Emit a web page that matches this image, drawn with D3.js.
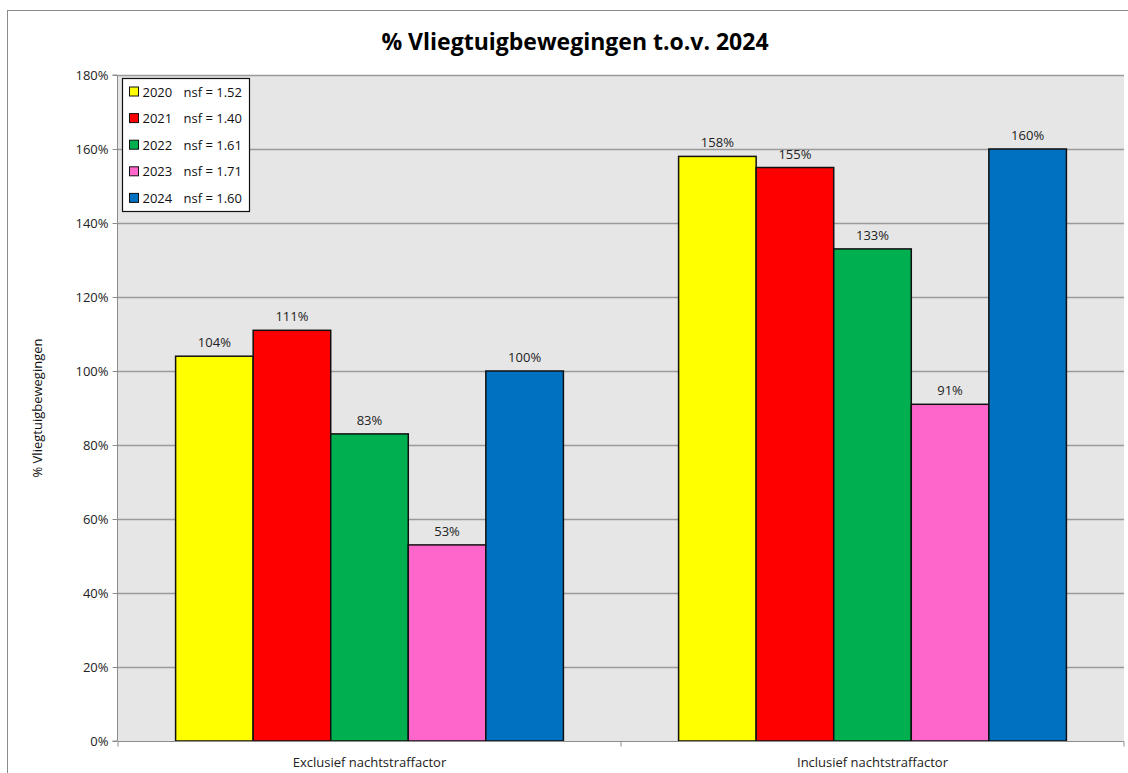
<!DOCTYPE html>
<html>
<head>
<meta charset="utf-8">
<script src="https://cdn.jsdelivr.net/npm/d3@7"></script>
<style>
  body { margin: 0; background: #fff; }
  svg { display: block; font-family: "Open Sans", sans-serif; }
</style>
</head>
<body>
<div class="chart"></div>
<script>
// data
var categories = ["Exclusief nachtstraffactor", "Inclusief nachtstraffactor"];
var years = ["2020", "2021", "2022", "2023", "2024"];
var nsf = ["1.52", "1.40", "1.61", "1.71", "1.60"];
var exclusief = [104, 111, 83, 53, 100];
var inclusief = [158, 155, 133, 91, 160];
var yTicks = [0, 20, 40, 60, 80, 100, 120, 140, 160, 180];
var colors = ["#ffff00", "#ff0000", "#00b050", "#ff66cc", "#0070c0"];

var width = 1128, height = 773;
var margin = { top: 75, right: 4, bottom: 32, left: 118 };
var fs = "13px";

var svg = d3.select(".chart").append("svg")
    .attr("width", width)
    .attr("height", height);

// outer chart border
svg.append("rect")
    .attr("x", 7.5).attr("y", 10.5)
    .attr("width", width + 20).attr("height", height + 20)
    .style("fill", "none").style("stroke", "#8c8c8c").style("stroke-width", 1);

svg.append("text")
    .attr("x", 575).attr("y", 50)
    .attr("text-anchor", "middle")
    .style("font-size", "23px").style("font-weight", "bold")
    .text("% Vliegtuigbewegingen t.o.v. 2024");

var x0 = d3.scaleBand()
    .domain(categories)
    .range([margin.left, width - margin.right])
    .paddingInner(0.229).paddingOuter(0.1145);

var x1 = d3.scaleBand()
    .domain(years)
    .range([0, x0.bandwidth()]);

var y = d3.scaleLinear()
    .domain([0, 180])
    .range([height - margin.bottom, margin.top]);

// plot background
svg.append("rect")
    .attr("x", margin.left).attr("y", y(180))
    .attr("width", width - margin.right - margin.left)
    .attr("height", y(0) - y(180))
    .style("fill", "#e6e6e6");

// gridlines
svg.append("g")
    .selectAll("line")
    .data(yTicks.filter(function(d) { return d > 0; }))
    .enter().append("line")
    .attr("x1", margin.left).attr("x2", width - margin.right)
    .attr("y1", function(d) { return Math.round(y(d)) + 0.5; })
    .attr("y2", function(d) { return Math.round(y(d)) + 0.5; })
    .style("stroke", "#9a9a9a").style("stroke-width", 1.5);

var series = [exclusief, inclusief];
var bars = [];
categories.forEach(function(c, ci) {
    years.forEach(function(yr, i) {
        bars.push({ cat: c, year: yr, value: series[ci][i], color: colors[i] });
    });
});

var g = svg.append("g");
g.selectAll("rect")
    .data(bars)
    .enter().append("rect")
    .attr("x", function(d) { return x0(d.cat) + x1(d.year); })
    .attr("y", function(d) { return y(d.value); })
    .attr("width", x1.bandwidth())
    .attr("height", function(d) { return y(0) - y(d.value); })
    .style("fill", function(d) { return d.color; })
    .style("stroke", "#111").style("stroke-width", 1.5);

g.selectAll("text")
    .data(bars)
    .enter().append("text")
    .attr("x", function(d) { return x0(d.cat) + x1(d.year) + x1.bandwidth() / 2; })
    .attr("y", function(d) { return y(d.value) - 9; })
    .attr("text-anchor", "middle")
    .style("font-size", fs).style("fill", "#222")
    .text(function(d) { return d.value + "%"; });

// y axis
var yAxis = d3.axisLeft(y)
    .tickValues(yTicks)
    .tickSize(5)
    .tickFormat(function(d) { return d + "%"; });

var ya = svg.append("g")
    .attr("transform", "translate(" + (margin.left - 0.5) + ",0)")
    .call(yAxis);
ya.select(".domain").style("stroke", "#8c8c8c").attr("d", "M-5," + y(180) + "H0V" + y(0) + "H-5");
ya.selectAll(".tick line").style("stroke", "#8c8c8c");
ya.selectAll("text").style("font-size", fs).style("fill", "#222").attr("x", -9)
    .style("font-family", "'Open Sans', sans-serif");

// x axis
var xa = svg.append("g")
    .attr("transform", "translate(0," + (y(0) + 0.5) + ")");
xa.append("line")
    .attr("x1", margin.left).attr("x2", width - margin.right)
    .style("stroke", "#8c8c8c");
var xt = [margin.left, x0(categories[1]) - x0.step() * x0.paddingInner() / 2, width - margin.right];
xa.selectAll(".xt").data(xt).enter().append("line")
    .attr("x1", function(d) { return d; }).attr("x2", function(d) { return d; })
    .attr("y1", 0).attr("y2", 5)
    .style("stroke", "#8c8c8c");
xa.selectAll("text")
    .data(categories)
    .enter().append("text")
    .attr("x", function(d) { return x0(d) + x0.bandwidth() / 2; })
    .attr("y", 25)
    .attr("text-anchor", "middle")
    .style("font-size", fs).style("fill", "#222")
    .text(function(d) { return d; });

// y axis title
svg.append("text")
    .attr("transform", "translate(42," + ((y(0) + y(180)) / 2) + ") rotate(-90)")
    .attr("text-anchor", "middle")
    .style("font-size", fs).style("fill", "#111")
    .text("% Vliegtuigbewegingen");

// legend
var lg = svg.append("g").attr("transform", "translate(122.5,78.5)");
lg.append("rect")
    .attr("width", 127).attr("height", 133)
    .style("fill", "#fff").style("stroke", "#111").style("stroke-width", 1.2);
var items = lg.selectAll(".item")
    .data(years)
    .enter().append("g")
    .attr("transform", function(d, i) { return "translate(7," + (13 + i * 26.6) + ")"; });
items.append("rect")
    .attr("x", 0).attr("y", -4.5)
    .attr("width", 9).attr("height", 9)
    .style("fill", function(d, i) { return colors[i]; })
    .style("stroke", "#111").style("stroke-width", 1);
var lt = items.append("text")
    .attr("y", 5)
    .style("font-size", fs).style("fill", "#111");
lt.append("tspan").attr("x", 13).text(function(d) { return d; });
lt.append("tspan").attr("x", 54).text(function(d, i) { return "nsf = " + nsf[i]; });
</script>
</body>
</html>
